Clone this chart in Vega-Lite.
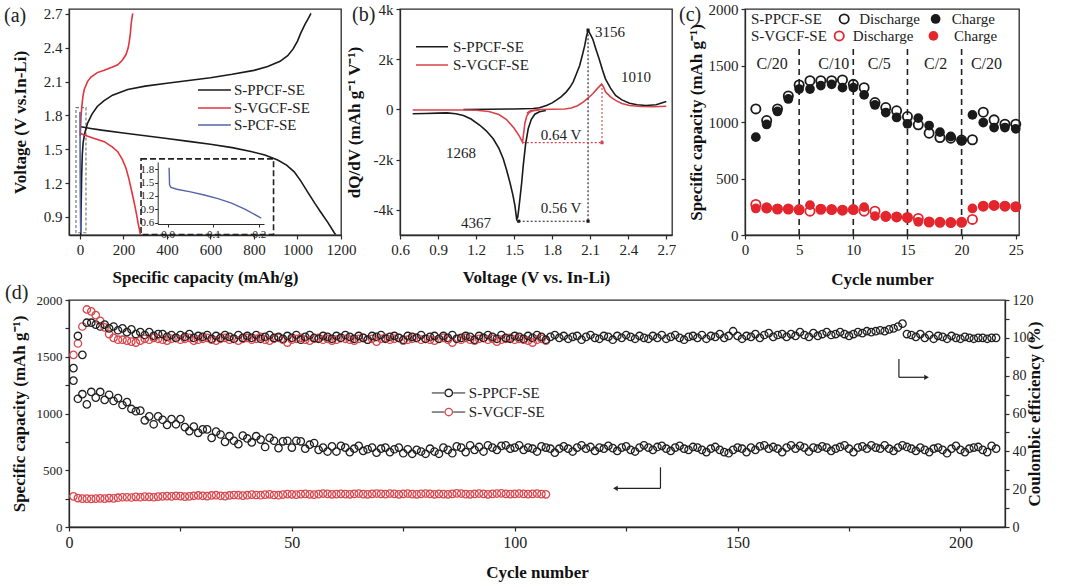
{
"$schema":"https://vega.github.io/schema/vega-lite/v6.json",
"background":"white",
"padding":{"left":3,"top":1,"right":4,"bottom":4},
"config":{
 "font":"Liberation Serif",
 "view":{"stroke":"#2a2a2a","strokeWidth":1.3},
 "axis":{"labelFont":"Liberation Serif","titleFont":"Liberation Serif","labelFontSize":15,"titleFontSize":17,"titleFontWeight":"bold","labelColor":"#222","titleColor":"#111","domainColor":"#2a2a2a","domainWidth":1.3,"tickColor":"#2a2a2a","tickWidth":1.2,"tickSize":4,"labelPadding":3,"grid":false,"labelFlush":false,"labelOverlap":false},
 "text":{"font":"Liberation Serif","fontSize":15,"color":"#222"}
},
"datasets":{
 "a_curves":[
  {"s":"S-PPCF-SE","b":"1","x":4,"y":0.74},{"s":"S-PPCF-SE","b":"1","x":6,"y":1.0},{"s":"S-PPCF-SE","b":"1","x":8,"y":1.25},{"s":"S-PPCF-SE","b":"1","x":11,"y":1.45},{"s":"S-PPCF-SE","b":"1","x":15,"y":1.56},{"s":"S-PPCF-SE","b":"1","x":22,"y":1.64},{"s":"S-PPCF-SE","b":"1","x":35,"y":1.73},{"s":"S-PPCF-SE","b":"1","x":55,"y":1.81},{"s":"S-PPCF-SE","b":"1","x":80,"y":1.88},{"s":"S-PPCF-SE","b":"1","x":110,"y":1.93},{"s":"S-PPCF-SE","b":"1","x":150,"y":1.98},{"s":"S-PPCF-SE","b":"1","x":220,"y":2.03},{"s":"S-PPCF-SE","b":"1","x":300,"y":2.06},{"s":"S-PPCF-SE","b":"1","x":400,"y":2.085},{"s":"S-PPCF-SE","b":"1","x":500,"y":2.11},{"s":"S-PPCF-SE","b":"1","x":600,"y":2.135},{"s":"S-PPCF-SE","b":"1","x":700,"y":2.165},{"s":"S-PPCF-SE","b":"1","x":800,"y":2.2},{"s":"S-PPCF-SE","b":"1","x":863,"y":2.235},{"s":"S-PPCF-SE","b":"1","x":920,"y":2.28},{"s":"S-PPCF-SE","b":"1","x":955,"y":2.33},{"s":"S-PPCF-SE","b":"1","x":980,"y":2.39},{"s":"S-PPCF-SE","b":"1","x":1000,"y":2.46},{"s":"S-PPCF-SE","b":"1","x":1015,"y":2.53},{"s":"S-PPCF-SE","b":"1","x":1035,"y":2.61},{"s":"S-PPCF-SE","b":"1","x":1050,"y":2.66},{"s":"S-PPCF-SE","b":"1","x":1062,"y":2.705},
  {"s":"S-PPCF-SE","b":"2","x":5,"y":1.7},{"s":"S-PPCF-SE","b":"2","x":50,"y":1.685},{"s":"S-PPCF-SE","b":"2","x":100,"y":1.67},{"s":"S-PPCF-SE","b":"2","x":200,"y":1.645},{"s":"S-PPCF-SE","b":"2","x":300,"y":1.62},{"s":"S-PPCF-SE","b":"2","x":400,"y":1.595},{"s":"S-PPCF-SE","b":"2","x":500,"y":1.57},{"s":"S-PPCF-SE","b":"2","x":600,"y":1.545},{"s":"S-PPCF-SE","b":"2","x":700,"y":1.515},{"s":"S-PPCF-SE","b":"2","x":786,"y":1.48},{"s":"S-PPCF-SE","b":"2","x":850,"y":1.45},{"s":"S-PPCF-SE","b":"2","x":909,"y":1.405},{"s":"S-PPCF-SE","b":"2","x":950,"y":1.36},{"s":"S-PPCF-SE","b":"2","x":985,"y":1.3},{"s":"S-PPCF-SE","b":"2","x":1015,"y":1.22},{"s":"S-PPCF-SE","b":"2","x":1047,"y":1.12},{"s":"S-PPCF-SE","b":"2","x":1080,"y":1.02},{"s":"S-PPCF-SE","b":"2","x":1108,"y":0.94},{"s":"S-PPCF-SE","b":"2","x":1140,"y":0.85},{"s":"S-PPCF-SE","b":"2","x":1169,"y":0.76},{"s":"S-PPCF-SE","b":"2","x":1175,"y":0.745},
  {"s":"S-VGCF-SE","b":"3","x":2,"y":1.62},{"s":"S-VGCF-SE","b":"3","x":5,"y":1.78},{"s":"S-VGCF-SE","b":"3","x":8,"y":1.86},{"s":"S-VGCF-SE","b":"3","x":14,"y":1.97},{"s":"S-VGCF-SE","b":"3","x":20,"y":2.03},{"s":"S-VGCF-SE","b":"3","x":35,"y":2.1},{"s":"S-VGCF-SE","b":"3","x":51,"y":2.14},{"s":"S-VGCF-SE","b":"3","x":80,"y":2.18},{"s":"S-VGCF-SE","b":"3","x":112,"y":2.2},{"s":"S-VGCF-SE","b":"3","x":150,"y":2.23},{"s":"S-VGCF-SE","b":"3","x":174,"y":2.25},{"s":"S-VGCF-SE","b":"3","x":195,"y":2.29},{"s":"S-VGCF-SE","b":"3","x":212,"y":2.34},{"s":"S-VGCF-SE","b":"3","x":222,"y":2.4},{"s":"S-VGCF-SE","b":"3","x":227,"y":2.455},{"s":"S-VGCF-SE","b":"3","x":232,"y":2.53},{"s":"S-VGCF-SE","b":"3","x":235,"y":2.6},{"s":"S-VGCF-SE","b":"3","x":239,"y":2.66},{"s":"S-VGCF-SE","b":"3","x":243,"y":2.706},
  {"s":"S-VGCF-SE","b":"4","x":3,"y":1.64},{"s":"S-VGCF-SE","b":"4","x":20,"y":1.627},{"s":"S-VGCF-SE","b":"4","x":60,"y":1.6},{"s":"S-VGCF-SE","b":"4","x":112,"y":1.568},{"s":"S-VGCF-SE","b":"4","x":150,"y":1.52},{"s":"S-VGCF-SE","b":"4","x":174,"y":1.479},{"s":"S-VGCF-SE","b":"4","x":195,"y":1.41},{"s":"S-VGCF-SE","b":"4","x":212,"y":1.332},{"s":"S-VGCF-SE","b":"4","x":225,"y":1.24},{"s":"S-VGCF-SE","b":"4","x":235,"y":1.155},{"s":"S-VGCF-SE","b":"4","x":247,"y":1.05},{"s":"S-VGCF-SE","b":"4","x":258,"y":0.947},{"s":"S-VGCF-SE","b":"4","x":268,"y":0.84},{"s":"S-VGCF-SE","b":"4","x":278,"y":0.745},
  {"s":"S-PCF-SE","b":"5","x":0.5,"y":1.83},{"s":"S-PCF-SE","b":"5","x":1,"y":1.5},{"s":"S-PCF-SE","b":"5","x":1.5,"y":1.3},{"s":"S-PCF-SE","b":"5","x":2,"y":1.1},{"s":"S-PCF-SE","b":"5","x":3,"y":0.9},{"s":"S-PCF-SE","b":"5","x":4,"y":0.76}
 ],
 "a_inset":[
  {"x":0.003,"y":1.83},{"x":0.004,"y":1.45},{"x":0.007,"y":1.39},{"x":0.02,"y":1.35},{"x":0.05,"y":1.29},{"x":0.08,"y":1.22},{"x":0.11,"y":1.14},{"x":0.14,"y":1.04},{"x":0.17,"y":0.9},{"x":0.2,"y":0.73},{"x":0.205,"y":0.7}
 ],
 "b_curves":[
  {"s":"S-PPCF-SE","b":"1","v":0.7,"q":-170},{"s":"S-PPCF-SE","b":"1","v":0.8,"q":-160},{"s":"S-PPCF-SE","b":"1","v":0.9,"q":-145},{"s":"S-PPCF-SE","b":"1","v":0.97,"q":-135},{"s":"S-PPCF-SE","b":"1","v":1.04,"q":-170},{"s":"S-PPCF-SE","b":"1","v":1.1,"q":-240},{"s":"S-PPCF-SE","b":"1","v":1.16,"q":-380},{"s":"S-PPCF-SE","b":"1","v":1.23,"q":-630},{"s":"S-PPCF-SE","b":"1","v":1.28,"q":-850},{"s":"S-PPCF-SE","b":"1","v":1.335,"q":-1170},{"s":"S-PPCF-SE","b":"1","v":1.38,"q":-1550},{"s":"S-PPCF-SE","b":"1","v":1.414,"q":-1960},{"s":"S-PPCF-SE","b":"1","v":1.44,"q":-2400},{"s":"S-PPCF-SE","b":"1","v":1.466,"q":-2890},{"s":"S-PPCF-SE","b":"1","v":1.49,"q":-3400},{"s":"S-PPCF-SE","b":"1","v":1.506,"q":-3820},{"s":"S-PPCF-SE","b":"1","v":1.52,"q":-4367},{"s":"S-PPCF-SE","b":"1","v":1.528,"q":-4300},{"s":"S-PPCF-SE","b":"1","v":1.537,"q":-3950},{"s":"S-PPCF-SE","b":"1","v":1.547,"q":-3500},{"s":"S-PPCF-SE","b":"1","v":1.56,"q":-2900},{"s":"S-PPCF-SE","b":"1","v":1.572,"q":-2230},{"s":"S-PPCF-SE","b":"1","v":1.59,"q":-1400},{"s":"S-PPCF-SE","b":"1","v":1.611,"q":-770},{"s":"S-PPCF-SE","b":"1","v":1.635,"q":-400},{"s":"S-PPCF-SE","b":"1","v":1.663,"q":-190},{"s":"S-PPCF-SE","b":"1","v":1.7,"q":-90},{"s":"S-PPCF-SE","b":"1","v":1.75,"q":-40},
  {"s":"S-PPCF-SE","b":"2","v":1.1,"q":0},{"s":"S-PPCF-SE","b":"2","v":1.3,"q":10},{"s":"S-PPCF-SE","b":"2","v":1.5,"q":20},{"s":"S-PPCF-SE","b":"2","v":1.65,"q":40},{"s":"S-PPCF-SE","b":"2","v":1.7,"q":70},{"s":"S-PPCF-SE","b":"2","v":1.755,"q":160},{"s":"S-PPCF-SE","b":"2","v":1.8,"q":260},{"s":"S-PPCF-SE","b":"2","v":1.83,"q":360},{"s":"S-PPCF-SE","b":"2","v":1.87,"q":500},{"s":"S-PPCF-SE","b":"2","v":1.91,"q":690},{"s":"S-PPCF-SE","b":"2","v":1.94,"q":880},{"s":"S-PPCF-SE","b":"2","v":1.965,"q":1090},{"s":"S-PPCF-SE","b":"2","v":1.99,"q":1400},{"s":"S-PPCF-SE","b":"2","v":2.017,"q":1750},{"s":"S-PPCF-SE","b":"2","v":2.04,"q":2200},{"s":"S-PPCF-SE","b":"2","v":2.057,"q":2550},{"s":"S-PPCF-SE","b":"2","v":2.07,"q":2900},{"s":"S-PPCF-SE","b":"2","v":2.083,"q":3156},{"s":"S-PPCF-SE","b":"2","v":2.1,"q":3000},{"s":"S-PPCF-SE","b":"2","v":2.12,"q":2800},{"s":"S-PPCF-SE","b":"2","v":2.145,"q":2400},{"s":"S-PPCF-SE","b":"2","v":2.17,"q":2020},{"s":"S-PPCF-SE","b":"2","v":2.195,"q":1600},{"s":"S-PPCF-SE","b":"2","v":2.22,"q":1220},{"s":"S-PPCF-SE","b":"2","v":2.26,"q":850},{"s":"S-PPCF-SE","b":"2","v":2.3,"q":560},{"s":"S-PPCF-SE","b":"2","v":2.35,"q":380},{"s":"S-PPCF-SE","b":"2","v":2.41,"q":250},{"s":"S-PPCF-SE","b":"2","v":2.47,"q":190},{"s":"S-PPCF-SE","b":"2","v":2.54,"q":160},{"s":"S-PPCF-SE","b":"2","v":2.62,"q":190},{"s":"S-PPCF-SE","b":"2","v":2.7,"q":320},
  {"s":"S-VGCF-SE","b":"3","v":0.7,"q":-20},{"s":"S-VGCF-SE","b":"3","v":0.9,"q":-20},{"s":"S-VGCF-SE","b":"3","v":1.1,"q":-25},{"s":"S-VGCF-SE","b":"3","v":1.2,"q":-35},{"s":"S-VGCF-SE","b":"3","v":1.3,"q":-80},{"s":"S-VGCF-SE","b":"3","v":1.38,"q":-200},{"s":"S-VGCF-SE","b":"3","v":1.44,"q":-400},{"s":"S-VGCF-SE","b":"3","v":1.5,"q":-750},{"s":"S-VGCF-SE","b":"3","v":1.54,"q":-1050},{"s":"S-VGCF-SE","b":"3","v":1.566,"q":-1300},{"s":"S-VGCF-SE","b":"3","v":1.575,"q":-950},{"s":"S-VGCF-SE","b":"3","v":1.585,"q":-550},{"s":"S-VGCF-SE","b":"3","v":1.6,"q":-250},{"s":"S-VGCF-SE","b":"3","v":1.62,"q":-110},{"s":"S-VGCF-SE","b":"3","v":1.65,"q":-50},{"s":"S-VGCF-SE","b":"3","v":1.7,"q":-25},
  {"s":"S-VGCF-SE","b":"4","v":1.6,"q":-150},{"s":"S-VGCF-SE","b":"4","v":1.63,"q":-50},{"s":"S-VGCF-SE","b":"4","v":1.7,"q":0},{"s":"S-VGCF-SE","b":"4","v":1.8,"q":10},{"s":"S-VGCF-SE","b":"4","v":1.9,"q":20},{"s":"S-VGCF-SE","b":"4","v":1.95,"q":60},{"s":"S-VGCF-SE","b":"4","v":2.0,"q":150},{"s":"S-VGCF-SE","b":"4","v":2.044,"q":290},{"s":"S-VGCF-SE","b":"4","v":2.08,"q":440},{"s":"S-VGCF-SE","b":"4","v":2.12,"q":624},{"s":"S-VGCF-SE","b":"4","v":2.15,"q":800},{"s":"S-VGCF-SE","b":"4","v":2.19,"q":1010},{"s":"S-VGCF-SE","b":"4","v":2.205,"q":900},{"s":"S-VGCF-SE","b":"4","v":2.22,"q":700},{"s":"S-VGCF-SE","b":"4","v":2.26,"q":500},{"s":"S-VGCF-SE","b":"4","v":2.3,"q":360},{"s":"S-VGCF-SE","b":"4","v":2.35,"q":240},{"s":"S-VGCF-SE","b":"4","v":2.41,"q":160},{"s":"S-VGCF-SE","b":"4","v":2.5,"q":120},{"s":"S-VGCF-SE","b":"4","v":2.6,"q":110},{"s":"S-VGCF-SE","b":"4","v":2.7,"q":130}
 ],
 "c_pts":[
  {"cycle":1,"pd":1116,"pc":866,"vd":270,"vc":235},{"cycle":2,"pd":1013,"pc":978,"vd":240,"vc":235},{"cycle":3,"pd":1116,"pc":1093,"vd":230,"vc":230},{"cycle":4,"pd":1231,"pc":1204,"vd":230,"vc":228},{"cycle":5,"pd":1328,"pc":1292,"vd":225,"vc":217},{"cycle":6,"pd":1366,"pc":1292,"vd":211,"vc":264},{"cycle":7,"pd":1366,"pc":1322,"vd":228,"vc":228},{"cycle":8,"pd":1366,"pc":1333,"vd":225,"vc":225},{"cycle":9,"pd":1372,"pc":1304,"vd":220,"vc":220},{"cycle":10,"pd":1333,"pc":1304,"vd":225,"vc":222},{"cycle":11,"pd":1304,"pc":1240,"vd":211,"vc":247},{"cycle":12,"pd":1172,"pc":1151,"vd":211,"vc":167},{"cycle":13,"pd":1128,"pc":1084,"vd":165,"vc":160},{"cycle":14,"pd":1099,"pc":1040,"vd":160,"vc":160},{"cycle":15,"pd":1048,"pc":984,"vd":155,"vc":150},{"cycle":16,"pd":975,"pc":1034,"vd":147,"vc":117},{"cycle":17,"pd":901,"pc":969,"vd":115,"vc":115},{"cycle":18,"pd":863,"pc":910,"vd":112,"vc":112},{"cycle":19,"pd":857,"pc":872,"vd":110,"vc":110},{"cycle":20,"pd":840,"pc":834,"vd":112,"vc":112},{"cycle":21,"pd":843,"pc":1063,"vd":138,"vc":235},{"cycle":22,"pd":1087,"pc":995,"vd":255,"vc":255},{"cycle":23,"pd":1019,"pc":951,"vd":262,"vc":262},{"cycle":24,"pd":981,"pc":951,"vd":255,"vc":255},{"cycle":25,"pd":981,"pc":940,"vd":250,"vc":250}
 ],
 "d_pts":[
{"cycle":1,"pc":1290,"pe":84,"vc":270,"ve":91},{"cycle":2,"pc":1130,"pe":101,"vc":255,"ve":97},{"cycle":3,"pc":1170,"pe":91,"vc":250,"ve":106},{"cycle":4,"pc":1080,"pe":108,"vc":250,"ve":115},{"cycle":5,"pc":1190,"pe":108,"vc":248,"ve":114},{"cycle":6,"pc":1140,"pe":107,"vc":250,"ve":112},{"cycle":7,"pc":1190,"pe":106,"vc":252,"ve":109},{"cycle":8,"pc":1120,"pe":107,"vc":250,"ve":105.5},{"cycle":9,"pc":1165,"pe":105,"vc":255,"ve":102},{"cycle":10,"pc":1110,"pe":106,"vc":252,"ve":100},
{"cycle":11,"pc":1135,"pe":104,"vc":258,"ve":99},{"cycle":12,"pc":1075,"pe":105,"vc":262,"ve":99},{"cycle":13,"pc":1100,"pe":103,"vc":262,"ve":98.5},{"cycle":14,"pc":1040,"pe":104.5,"vc":260,"ve":98},{"cycle":15,"pc":1020,"pe":102,"vc":265,"ve":97.5},{"cycle":16,"pc":1025,"pe":103,"vc":262,"ve":98.5},{"cycle":17,"pc":940,"pe":101.5,"vc":268,"ve":99.5},{"cycle":18,"pc":975,"pe":103,"vc":265,"ve":99},{"cycle":19,"pc":905,"pe":101,"vc":262,"ve":100},{"cycle":20,"pc":975,"pe":102,"vc":268,"ve":99.5},
{"cycle":21,"pc":945,"pe":102,"vc":270,"ve":99},{"cycle":22,"pc":900,"pe":100.5,"vc":272,"ve":98.5},{"cycle":23,"pc":950,"pe":101.5,"vc":270,"ve":99.5},{"cycle":24,"pc":905,"pe":100,"vc":275,"ve":100},{"cycle":25,"pc":950,"pe":101.5,"vc":272,"ve":99},{"cycle":26,"pc":880,"pe":100.5,"vc":268,"ve":99.5},{"cycle":27,"pc":845,"pe":102,"vc":270,"ve":100},{"cycle":28,"pc":885,"pe":100,"vc":275,"ve":98.5},{"cycle":29,"pc":830,"pe":101,"vc":278,"ve":99},{"cycle":30,"pc":860,"pe":100.5,"vc":275,"ve":99.5},
{"cycle":31,"pc":860,"pe":101.5,"vc":272,"ve":100},{"cycle":32,"pc":785,"pe":99.5,"vc":278,"ve":99},{"cycle":33,"pc":840,"pe":101,"vc":280,"ve":98.5},{"cycle":34,"pc":815,"pe":100,"vc":275,"ve":99.5},{"cycle":35,"pc":750,"pe":101.5,"vc":272,"ve":100},{"cycle":36,"pc":800,"pe":100.5,"vc":278,"ve":99},{"cycle":37,"pc":760,"pe":99.5,"vc":282,"ve":99.5},{"cycle":38,"pc":730,"pe":101.5,"vc":280,"ve":98.5},{"cycle":39,"pc":805,"pe":100,"vc":276,"ve":99.5},{"cycle":40,"pc":780,"pe":101,"vc":280,"ve":100},
{"cycle":41,"pc":745,"pe":100,"vc":285,"ve":99},{"cycle":42,"pc":800,"pe":101.5,"vc":282,"ve":99.5},{"cycle":43,"pc":770,"pe":99.5,"vc":280,"ve":100.5},{"cycle":44,"pc":705,"pe":100.5,"vc":285,"ve":99},{"cycle":45,"pc":785,"pe":101.5,"vc":288,"ve":98.5},{"cycle":46,"pc":760,"pe":100,"vc":282,"ve":99.5},{"cycle":47,"pc":695,"pe":100.5,"vc":280,"ve":100},{"cycle":48,"pc":755,"pe":99.5,"vc":286,"ve":99},{"cycle":49,"pc":760,"pe":101,"vc":290,"ve":97.5},{"cycle":50,"pc":700,"pe":100,"vc":288,"ve":99},
{"cycle":51,"pc":760,"pe":101.5,"vc":285,"ve":99.5},{"cycle":52,"pc":755,"pe":99,"vc":290,"ve":100},{"cycle":53,"pc":690,"pe":100.5,"vc":292,"ve":99},{"cycle":54,"pc":725,"pe":101.5,"vc":288,"ve":98.5},{"cycle":55,"pc":740,"pe":100,"vc":285,"ve":99.5},{"cycle":56,"pc":680,"pe":99.5,"vc":290,"ve":100},{"cycle":57,"pc":700,"pe":101,"vc":295,"ve":99},{"cycle":58,"pc":665,"pe":100.5,"vc":292,"ve":99.5},{"cycle":59,"pc":710,"pe":99.5,"vc":288,"ve":98.5},{"cycle":60,"pc":665,"pe":101,"vc":290,"ve":99},
{"cycle":61,"pc":715,"pe":100,"vc":292,"ve":100},{"cycle":62,"pc":700,"pe":101.5,"vc":290,"ve":99.5},{"cycle":63,"pc":660,"pe":100.5,"vc":288,"ve":99},{"cycle":64,"pc":690,"pe":99.5,"vc":292,"ve":98.5},{"cycle":65,"pc":715,"pe":101,"vc":295,"ve":99.5},{"cycle":66,"pc":670,"pe":100,"vc":290,"ve":100},{"cycle":67,"pc":685,"pe":99,"vc":288,"ve":99},{"cycle":68,"pc":700,"pe":101,"vc":292,"ve":99.5},{"cycle":69,"pc":655,"pe":100.5,"vc":295,"ve":98},{"cycle":70,"pc":690,"pe":101.5,"vc":292,"ve":99.5},
{"cycle":71,"pc":700,"pe":99.5,"vc":290,"ve":100},{"cycle":72,"pc":660,"pe":100.5,"vc":295,"ve":99},{"cycle":73,"pc":685,"pe":101,"vc":292,"ve":99.5},{"cycle":74,"pc":700,"pe":100,"vc":288,"ve":100},{"cycle":75,"pc":650,"pe":99,"vc":292,"ve":98.5},{"cycle":76,"pc":685,"pe":101,"vc":295,"ve":99},{"cycle":77,"pc":645,"pe":100.5,"vc":290,"ve":99.5},{"cycle":78,"pc":680,"pe":100,"vc":288,"ve":100},{"cycle":79,"pc":665,"pe":101.5,"vc":292,"ve":99},{"cycle":80,"pc":645,"pe":99.5,"vc":295,"ve":99.5},
{"cycle":81,"pc":690,"pe":100.5,"vc":292,"ve":99},{"cycle":82,"pc":665,"pe":101,"vc":288,"ve":98.5},{"cycle":83,"pc":645,"pe":99.5,"vc":292,"ve":99.5},{"cycle":84,"pc":700,"pe":101,"vc":290,"ve":100},{"cycle":85,"pc":680,"pe":100,"vc":288,"ve":99},{"cycle":86,"pc":650,"pe":101.5,"vc":292,"ve":97.5},{"cycle":87,"pc":710,"pe":99.5,"vc":296,"ve":99.5},{"cycle":88,"pc":700,"pe":100,"vc":295,"ve":99},{"cycle":89,"pc":660,"pe":101,"vc":290,"ve":100},{"cycle":90,"pc":720,"pe":100.5,"vc":288,"ve":99},
{"cycle":91,"pc":680,"pe":99,"vc":292,"ve":98.5},{"cycle":92,"pc":705,"pe":101,"vc":295,"ve":99.5},{"cycle":93,"pc":665,"pe":100,"vc":292,"ve":100},{"cycle":94,"pc":720,"pe":101.5,"vc":288,"ve":99},{"cycle":95,"pc":700,"pe":100.5,"vc":292,"ve":99.5},{"cycle":96,"pc":680,"pe":99.5,"vc":295,"ve":98},{"cycle":97,"pc":715,"pe":101.5,"vc":296,"ve":99},{"cycle":98,"pc":720,"pe":100,"vc":292,"ve":99.5},{"cycle":99,"pc":690,"pe":99.5,"vc":290,"ve":100},{"cycle":100,"pc":700,"pe":101,"vc":292,"ve":99},
{"cycle":101,"pc":720,"pe":100.5,"vc":295,"ve":99.5},{"cycle":102,"pc":680,"pe":99.5,"vc":292,"ve":99},{"cycle":103,"pc":700,"pe":101,"vc":290,"ve":98.5},{"cycle":104,"pc":690,"pe":100,"vc":292,"ve":97.5},{"cycle":105,"pc":665,"pe":101.5,"vc":295,"ve":99},{"cycle":106,"pc":710,"pe":100.5,"vc":290,"ve":99.5},{"cycle":107,"pc":700,"pe":99,"vc":288,"ve":98.5},{"cycle":108,"pc":690,"pe":100.5},{"cycle":109,"pc":655,"pe":101.5},{"cycle":110,"pc":690,"pe":100},
{"cycle":111,"pc":710,"pe":101},{"cycle":112,"pc":690,"pe":99.5},{"cycle":113,"pc":665,"pe":100.5},{"cycle":114,"pc":700,"pe":101},{"cycle":115,"pc":720,"pe":99},{"cycle":116,"pc":690,"pe":100.5},{"cycle":117,"pc":705,"pe":101.5},{"cycle":118,"pc":670,"pe":100},{"cycle":119,"pc":700,"pe":99.5},{"cycle":120,"pc":690,"pe":101},
{"cycle":121,"pc":715,"pe":100.5},{"cycle":122,"pc":695,"pe":99},{"cycle":123,"pc":670,"pe":101},{"cycle":124,"pc":700,"pe":100},{"cycle":125,"pc":710,"pe":101.5},{"cycle":126,"pc":680,"pe":100.5},{"cycle":127,"pc":665,"pe":99.5},{"cycle":128,"pc":700,"pe":101},{"cycle":129,"pc":720,"pe":100},{"cycle":130,"pc":700,"pe":99.5},
{"cycle":131,"pc":680,"pe":101},{"cycle":132,"pc":705,"pe":100},{"cycle":133,"pc":715,"pe":101.5},{"cycle":134,"pc":690,"pe":99.5},{"cycle":135,"pc":670,"pe":100.5},{"cycle":136,"pc":700,"pe":101.5},{"cycle":137,"pc":715,"pe":100},{"cycle":138,"pc":690,"pe":99},{"cycle":139,"pc":680,"pe":100.5},{"cycle":140,"pc":705,"pe":101},
{"cycle":141,"pc":700,"pe":100},{"cycle":142,"pc":680,"pe":101.5},{"cycle":143,"pc":660,"pe":99.5},{"cycle":144,"pc":690,"pe":101},{"cycle":145,"pc":705,"pe":100.5},{"cycle":146,"pc":680,"pe":102},{"cycle":147,"pc":660,"pe":100},{"cycle":148,"pc":650,"pe":101},{"cycle":149,"pc":680,"pe":103.5},{"cycle":150,"pc":700,"pe":101},
{"cycle":151,"pc":690,"pe":99.5},{"cycle":152,"pc":660,"pe":101},{"cycle":153,"pc":700,"pe":100.5},{"cycle":154,"pc":680,"pe":102},{"cycle":155,"pc":710,"pe":100},{"cycle":156,"pc":720,"pe":101.5},{"cycle":157,"pc":690,"pe":102.5},{"cycle":158,"pc":705,"pe":100.5},{"cycle":159,"pc":690,"pe":101.5},{"cycle":160,"pc":660,"pe":102},
{"cycle":161,"pc":700,"pe":100.5},{"cycle":162,"pc":720,"pe":102},{"cycle":163,"pc":690,"pe":101},{"cycle":164,"pc":715,"pe":103},{"cycle":165,"pc":700,"pe":101.5},{"cycle":166,"pc":665,"pe":100.5},{"cycle":167,"pc":700,"pe":102.5},{"cycle":168,"pc":690,"pe":101},{"cycle":169,"pc":710,"pe":102},{"cycle":170,"pc":700,"pe":103},
{"cycle":171,"pc":670,"pe":101.5},{"cycle":172,"pc":690,"pe":102},{"cycle":173,"pc":705,"pe":103},{"cycle":174,"pc":720,"pe":102},{"cycle":175,"pc":690,"pe":101},{"cycle":176,"pc":660,"pe":102},{"cycle":177,"pc":700,"pe":103},{"cycle":178,"pc":710,"pe":102.5},{"cycle":179,"pc":690,"pe":103.5},{"cycle":180,"pc":720,"pe":103},
{"cycle":181,"pc":700,"pe":103.5},{"cycle":182,"pc":690,"pe":104},{"cycle":183,"pc":720,"pe":103.5},{"cycle":184,"pc":690,"pe":104.5},{"cycle":185,"pc":670,"pe":105},{"cycle":186,"pc":700,"pe":106},{"cycle":187,"pc":720,"pe":107.5},{"cycle":188,"pc":705,"pe":102},{"cycle":189,"pc":690,"pe":101.5},{"cycle":190,"pc":670,"pe":100.5},
{"cycle":191,"pc":700,"pe":102},{"cycle":192,"pc":680,"pe":100},{"cycle":193,"pc":660,"pe":101.5},{"cycle":194,"pc":690,"pe":99.5},{"cycle":195,"pc":700,"pe":101},{"cycle":196,"pc":680,"pe":100.5},{"cycle":197,"pc":650,"pe":99.5},{"cycle":198,"pc":690,"pe":101},{"cycle":199,"pc":715,"pe":100},{"cycle":200,"pc":680,"pe":99.5},
{"cycle":201,"pc":660,"pe":100.5},{"cycle":202,"pc":690,"pe":100},{"cycle":203,"pc":700,"pe":99.5},{"cycle":204,"pc":705,"pe":100},{"cycle":205,"pc":680,"pe":100},{"cycle":206,"pc":660,"pe":99.5},{"cycle":207,"pc":715,"pe":100},{"cycle":208,"pc":690,"pe":100}
 ]
},
"spacing":-6,
"resolve":{"scale":{"color":"independent","shape":"independent"}},
"vconcat":[
 {
  "spacing":59,"bounds":"flush",
  "resolve":{"scale":{"color":"independent","shape":"independent"}},
  "hconcat":[
   {
    "width":272,"height":226,
    "resolve":{"scale":{"x":"independent","y":"independent"},"axis":{"x":"independent","y":"independent"}},
    "layer":[
     {
      "encoding":{
       "x":{"field":"x","type":"quantitative","scale":{"domain":[-50,1200],"nice":false,"zero":false},"axis":{"title":"Specific capacity (mAh/g)","values":[0,200,400,600,800,1000,1200],"format":"d","titlePadding":12}},
       "y":{"field":"y","type":"quantitative","scale":{"domain":[0.74,2.744],"nice":false,"zero":false},"axis":{"title":"Voltage (V vs.In-Li)","values":[0.9,1.2,1.5,1.8,2.1,2.4,2.7],"format":".1f","titlePadding":14}}
      },
      "layer":[
       {"data":{"values":[{"x":-18,"x2":28,"y":0.76,"y2":1.87}]},"mark":{"type":"rect","fill":"transparent","stroke":"#777","strokeWidth":1.2,"strokeDash":[3,2]},"encoding":{"x2":{"field":"x2"},"y2":{"field":"y2"}}},
       {"data":{"values":[{"x":281,"x2":890,"y":0.745,"y2":1.415}]},"mark":{"type":"rect","fill":"transparent","stroke":"#222","strokeWidth":1.6,"strokeDash":[6,3]},"encoding":{"x2":{"field":"x2"},"y2":{"field":"y2"}}},
       {"data":{"name":"a_curves"},"mark":{"type":"line","strokeWidth":1.6},"encoding":{"color":{"field":"s","type":"nominal","scale":{"domain":["S-PPCF-SE","S-VGCF-SE","S-PCF-SE"],"range":["#1a1a1a","#e0353e","#5464a8"]},"legend":null},"detail":{"field":"b"}}},
       {"data":{"values":[{"x":543,"x2":694,"y":2.026,"s":"S-PPCF-SE"},{"x":543,"x2":694,"y":1.866,"s":"S-VGCF-SE"},{"x":543,"x2":694,"y":1.715,"s":"S-PCF-SE"}]},"mark":{"type":"rule","strokeWidth":1.6},"encoding":{"x2":{"field":"x2"},"color":{"field":"s","type":"nominal","legend":null}}},
       {"data":{"values":[{"x":708,"y":2.026,"t":"S-PPCF-SE"},{"x":708,"y":1.866,"t":"S-VGCF-SE"},{"x":708,"y":1.715,"t":"S-PCF-SE"}]},"mark":{"type":"text","align":"left","baseline":"middle","fontSize":15},"encoding":{"text":{"field":"t"}}},
       {"data":{"values":[{"x":-50,"y":2.744,"t":"(a)"}]},"mark":{"type":"text","align":"left","baseline":"middle","fontSize":20,"dx":-65,"dy":7},"encoding":{"text":{"field":"t"}}}
      ]
     },
     {
      "data":{"name":"a_inset"},
      "mark":{"type":"line","color":"#5464a8","strokeWidth":1.4},
      "encoding":{
       "x":{"field":"x","type":"quantitative","scale":{"domain":[-0.022,0.211],"range":[88.7,195],"nice":false,"zero":false},"axis":{"orient":"bottom","offset":-11,"values":[0,0.1,0.2],"format":".1f","labelFontSize":11,"tickSize":3,"title":null,"labelPadding":1,"domainWidth":1,"tickWidth":1}},
       "y":{"field":"y","type":"quantitative","scale":{"domain":[0.571,1.96],"range":[215,153],"nice":false,"zero":false},"axis":{"orient":"left","offset":-88.7,"values":[0.6,0.9,1.2,1.5,1.8],"format":".1f","labelFontSize":11,"tickSize":3,"title":null,"labelPadding":1,"domainWidth":1,"tickWidth":1}}
      }
     }
    ]
   },
   {
    "spacing":73,"bounds":"flush",
    "resolve":{"scale":{"color":"independent","shape":"independent"}},
    "hconcat":[
     {
      "width":272,"height":226,
      "encoding":{
       "x":{"field":"v","type":"quantitative","scale":{"domain":[0.6,2.745],"nice":false,"zero":false},"axis":{"title":"Voltage (V vs. In-Li)","values":[0.6,0.9,1.2,1.5,1.8,2.1,2.4,2.7],"format":".1f","titlePadding":12}},
       "y":{"field":"q","type":"quantitative","scale":{"domain":[-5000,4000],"nice":false,"zero":false},"axis":{"title":"dQ/dV (mAh g⁻¹ V⁻¹)","values":[-4000,-2000,0,2000,4000],"labelExpr":"datum.value === 0 ? '0' : (datum.value/1000) + 'k'","titlePadding":10}}
      },
      "layer":[
       {"data":{"name":"b_curves"},"mark":{"type":"line","strokeWidth":1.6},"encoding":{"color":{"field":"s","type":"nominal","scale":{"domain":["S-PPCF-SE","S-VGCF-SE"],"range":["#1a1a1a","#d8434b"]},"legend":null},"detail":{"field":"b"}}},
       {"data":{"values":[{"v":2.083,"q":3156,"v2":2.083,"q2":-4450,"s":"S-PPCF-SE"},{"v":1.536,"q":-4450,"v2":2.083,"q2":-4450,"s":"S-PPCF-SE"},{"v":2.193,"q":1010,"v2":2.193,"q2":-1323,"s":"S-VGCF-SE"},{"v":1.568,"q":-1323,"v2":2.193,"q2":-1323,"s":"S-VGCF-SE"}]},"mark":{"type":"rule","strokeDash":[2,2],"strokeWidth":1.1},"encoding":{"x2":{"field":"v2"},"y2":{"field":"q2"},"color":{"field":"s","type":"nominal","legend":null}}},
       {"data":{"values":[{"v":2.083,"q":-4450,"s":"S-PPCF-SE"},{"v":1.536,"q":-4450,"s":"S-PPCF-SE"},{"v":2.083,"q":3156,"s":"S-PPCF-SE"},{"v":2.193,"q":-1323,"s":"S-VGCF-SE"}]},"mark":{"type":"point","shape":"square","filled":true,"size":10,"opacity":1},"encoding":{"color":{"field":"s","type":"nominal","legend":null}}},
       {"data":{"values":[{"v":0.726,"v2":0.979,"q":2499,"s":"S-PPCF-SE"},{"v":0.726,"v2":0.979,"q":1770,"s":"S-VGCF-SE"}]},"mark":{"type":"rule","strokeWidth":1.6},"encoding":{"x2":{"field":"v2"},"color":{"field":"s","type":"nominal","legend":null}}},
       {"data":{"values":[{"v":1.018,"q":2499,"t":"S-PPCF-SE"},{"v":1.018,"q":1770,"t":"S-VGCF-SE"}]},"mark":{"type":"text","align":"left","baseline":"middle","fontSize":15},"encoding":{"text":{"field":"t"}}},
       {"data":{"values":[{"v":2.256,"q":3084,"t":"3156"},{"v":2.461,"q":1292,"t":"1010"},{"v":1.081,"q":-1754,"t":"1268"},{"v":1.199,"q":-4521,"t":"4367"},{"v":1.87,"q":-1017,"t":"0.64 V"},{"v":1.87,"q":-3924,"t":"0.56 V"}]},"mark":{"type":"text","align":"center","baseline":"middle","fontSize":15},"encoding":{"text":{"field":"t"}}},
       {"data":{"values":[{"v":0.6,"q":4000,"t":"(b)"}]},"mark":{"type":"text","align":"left","baseline":"middle","fontSize":20,"dx":-48,"dy":6},"encoding":{"text":{"field":"t"}}}
      ]
     },
     {
      "width":274,"height":226,
      "encoding":{
       "x":{"field":"cycle","type":"quantitative","scale":{"domain":[0,25.3],"nice":false,"zero":false},"axis":{"title":"Cycle number","values":[0,5,10,15,20,25],"titlePadding":14}},
       "y":{"field":"y","type":"quantitative","scale":{"domain":[0,2000],"nice":false},"axis":{"title":"Specific capacity (mAh g⁻¹)","values":[0,500,1000,1500,2000],"format":"d","titlePadding":3}}
      },
      "layer":[
       {"data":{"values":[{"cycle":5,"y":0,"y2":1650},{"cycle":10,"y":0,"y2":1650},{"cycle":15,"y":0,"y2":1650},{"cycle":20,"y":0,"y2":1650}]},"mark":{"type":"rule","strokeDash":[6,4],"strokeWidth":1.6,"color":"#222"},"encoding":{"y2":{"field":"y2"}}},
       {"data":{"name":"c_pts"},"transform":[{"fold":["pc","vc"],"as":["k","y"]}],"mark":{"type":"point","shape":"circle","filled":true,"size":95,"opacity":1},"encoding":{"color":{"field":"k","type":"nominal","scale":{"domain":["pd","pc","vd","vc"],"range":["#1a1a1a","#1a1a1a","#e3262d","#e3262d"]},"legend":null}}},
       {"data":{"name":"c_pts"},"transform":[{"fold":["pd","vd"],"as":["k","y"]}],"mark":{"type":"point","shape":"circle","filled":false,"size":85,"strokeWidth":1.8,"opacity":1},"encoding":{"color":{"field":"k","type":"nominal","legend":null}}},
       {"data":{"values":[{"cycle":17.6,"y":1912,"k":"pc"},{"cycle":17.4,"y":1762,"k":"vc"}]},"mark":{"type":"point","shape":"circle","filled":true,"size":95,"opacity":1},"encoding":{"color":{"field":"k","type":"nominal","legend":null}}},
       {"data":{"values":[{"cycle":9.16,"y":1912,"k":"pd"},{"cycle":8.7,"y":1762,"k":"vd"}]},"mark":{"type":"point","shape":"circle","filled":false,"size":85,"strokeWidth":1.8,"opacity":1},"encoding":{"color":{"field":"k","type":"nominal","legend":null}}},
       {"data":{"values":[{"cycle":0.55,"y":1912,"t":"S-PPCF-SE"},{"cycle":10.55,"y":1912,"t":"Discharge"},{"cycle":19.1,"y":1912,"t":"Charge"},{"cycle":0.55,"y":1762,"t":"S-VGCF-SE"},{"cycle":9.95,"y":1762,"t":"Discharge"},{"cycle":19.3,"y":1762,"t":"Charge"}]},"mark":{"type":"text","align":"left","baseline":"middle","fontSize":15},"encoding":{"text":{"field":"t"}}},
       {"data":{"values":[{"cycle":2.5,"y":1515,"t":"C/20"},{"cycle":8.2,"y":1515,"t":"C/10"},{"cycle":12.4,"y":1515,"t":"C/5"},{"cycle":17.6,"y":1515,"t":"C/2"},{"cycle":22.3,"y":1515,"t":"C/20"}]},"mark":{"type":"text","align":"center","baseline":"middle","fontSize":16},"encoding":{"text":{"field":"t"}}},
       {"data":{"values":[{"cycle":0,"y":2000,"t":"(c)"}]},"mark":{"type":"text","align":"left","baseline":"middle","fontSize":20,"dx":-66,"dy":6},"encoding":{"text":{"field":"t"}}}
      ]
     }
    ]
   }
  ]
 },
 {
  "width":936,"height":227,
  "resolve":{"scale":{"y":"independent"},"axis":{"y":"independent"}},
  "encoding":{
   "x":{"field":"cycle","type":"quantitative","scale":{"domain":[0,210],"nice":false,"zero":false},"axis":{"title":"Cycle number","values":[0,25,50,75,100,125,150,175,200],"format":"d","labelExpr":"datum.value % 50 === 0 ? datum.label : ''","labelFontSize":16,"titlePadding":14}}
  },
  "layer":[
   {
    "encoding":{
     "y":{"field":"y","type":"quantitative","scale":{"domain":[0,2000],"nice":false},"axis":{"title":"Specific capacity (mAh g⁻¹)","values":[0,250,500,750,1000,1250,1500,1750,2000],"format":"d","labelExpr":"datum.value % 500 === 0 ? datum.label : ''","labelFontSize":13,"titlePadding":8}}
    },
    "layer":[
     {"data":{"name":"d_pts"},"transform":[{"fold":["vc","pc"],"as":["k","y"]}],"mark":{"type":"point","shape":"circle","filled":false,"size":55,"strokeWidth":1.3,"opacity":1},"encoding":{"color":{"field":"k","type":"nominal","scale":{"domain":["pc","vc","pe","ve"],"range":["#1f1f1f","#d9474d","#1f1f1f","#d9474d"]},"legend":null}}},
     {"data":{"values":[{"cycle":132.7,"y":526,"cycle2":132.7,"y2":341},{"cycle":132.7,"y":341,"cycle2":123,"y2":341},{"cycle":186.2,"y":1480,"cycle2":186.2,"y2":1319},{"cycle":186.2,"y":1319,"cycle2":192,"y2":1319}]},"mark":{"type":"rule","strokeWidth":1.2,"color":"#222"},"encoding":{"x2":{"field":"cycle2"},"y2":{"field":"y2"}}},
     {"data":{"values":[{"cycle":122.6,"y":341,"d":"l"},{"cycle":192.4,"y":1319,"d":"r"}]},"mark":{"type":"point","filled":true,"size":28,"color":"#222","opacity":1},"encoding":{"shape":{"field":"d","type":"nominal","scale":{"domain":["l","r"],"range":["triangle-left","triangle-right"]},"legend":null}}},
     {"data":{"values":[{"cycle":81.4,"cycle2":84.2,"y":1181},{"cycle":86.2,"cycle2":88.9,"y":1181},{"cycle":81.4,"cycle2":84.2,"y":1013},{"cycle":86.2,"cycle2":88.9,"y":1013}]},"mark":{"type":"rule","strokeWidth":1.2,"color":"#444"},"encoding":{"x2":{"field":"cycle2"}}},
     {"data":{"values":[{"cycle":85.2,"y":1181,"k":"pc"},{"cycle":85.2,"y":1013,"k":"vc"}]},"mark":{"type":"point","shape":"circle","filled":false,"size":55,"strokeWidth":1.3,"opacity":1},"encoding":{"color":{"field":"k","type":"nominal","legend":null}}},
     {"data":{"values":[{"cycle":89.7,"y":1181,"t":"S-PPCF-SE"},{"cycle":89.7,"y":1013,"t":"S-VGCF-SE"}]},"mark":{"type":"text","align":"left","baseline":"middle","fontSize":15},"encoding":{"text":{"field":"t"}}},
     {"data":{"values":[{"cycle":0,"y":2000,"t":"(d)"}]},"mark":{"type":"text","align":"left","baseline":"middle","fontSize":20,"dx":-64,"dy":-7},"encoding":{"text":{"field":"t"}}}
    ]
   },
   {
    "data":{"name":"d_pts"},
    "transform":[{"fold":["ve","pe"],"as":["k","y"]}],
    "mark":{"type":"point","shape":"circle","filled":false,"size":55,"strokeWidth":1.3,"opacity":1},
    "encoding":{
     "y":{"field":"y","type":"quantitative","scale":{"domain":[0,120],"nice":false},"axis":{"orient":"right","title":"Coulombic efficiency (%)","values":[0,10,20,30,40,50,60,70,80,90,100,110,120],"labelExpr":"datum.value % 20 === 0 ? datum.label : ''","labelFontSize":14,"titlePadding":10,"titleAngle":270}},
     "color":{"field":"k","type":"nominal","scale":{"domain":["pc","vc","pe","ve"],"range":["#1f1f1f","#d9474d","#1f1f1f","#d9474d"]},"legend":null}
    }
   }
  ]
 }
]
}
